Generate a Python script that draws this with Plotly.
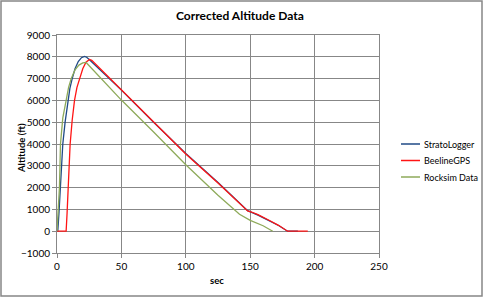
import plotly.graph_objects as go

# StratoLogger
strato_t = [0, 0.6, 1.5, 2.7, 4.5, 6.3, 8.4, 10, 11.8, 14, 16.5, 19, 21.3, 23, 25,
            50, 75, 100, 125, 148, 156, 165, 172, 179, 187]
strato_alt = [0, 0, 800, 2000, 4000, 5000, 6000, 6550, 7000, 7450, 7780, 7960, 8020, 7980, 7880,
              6470, 5000, 3560, 2230, 940, 740, 480, 260, 0, 0]

# BeelineGPS
gps_t = [0, 7.1, 7.8, 8.9, 10.2, 11.8, 13.6, 15.5, 17.5, 20, 22.5, 25.2, 27,
         50, 75, 100, 125, 148, 151, 156, 165, 172, 179, 187, 194.7]
gps_alt = [0, 0, 800, 2000, 4000, 5100, 6000, 6600, 7000, 7450, 7750, 7880, 7840,
           6470, 5000, 3540, 2210, 930, 880, 760, 490, 270, 0, 0, 0]

# Rocksim Data
rock_t = [0, 0.8, 1.9, 2.7, 4.5, 7.1, 9, 11, 14, 17, 20, 22.6,
          50, 75, 100, 125, 141.7, 150, 160, 167.5]
rock_alt = [0, 800, 2000, 4000, 5200, 6000, 6600, 7000, 7400, 7620, 7720, 7740,
            6015, 4550, 3050, 1650, 780, 500, 250, 0]

series_names = ["StratoLogger", "BeelineGPS", "Rocksim Data"]
series_colors = ["#1F4A86", "#FF1414", "#8EAA5A"]

FONT = "Lato"
W, H = 484, 298
L, R, T, B = 57, 105, 35, 45
PW, PH = W - L - R, H - T - B


def px(x):  # pixel x -> paper
    return (x - L) / PW


def py(y):  # pixel y -> paper
    return (H - B - y) / PH


fig = go.Figure()
for (t, a), name, col in zip([(strato_t, strato_alt), (gps_t, gps_alt), (rock_t, rock_alt)],
                             series_names, series_colors):
    fig.add_trace(go.Scatter(x=t, y=a, mode="lines", name=name, showlegend=False,
                             line=dict(color=col, width=1.3)))

axis_common = dict(showgrid=True, gridcolor="#878787", gridwidth=1,
                   showline=True, linecolor="#878787", linewidth=1, mirror=True,
                   zeroline=False, ticks="outside", ticklen=4, tickcolor="#878787",
                   automargin=False,
                   tickfont=dict(family=FONT, size=10, color="#000"))

shapes = [dict(type="rect", xref="paper", yref="paper",
               x0=px(1), x1=px(482), y0=py(296), y1=py(1),
               line=dict(color="#878787", width=1.5), fillcolor="rgba(0,0,0,0)", layer="below")]
annotations = [
    dict(text="<b>Corrected Altitude Data</b>", xref="paper", yref="paper",
         x=px(240), y=py(16), showarrow=False, xanchor="center", yanchor="middle",
         font=dict(family=FONT, size=12, color="#000")),
    dict(text="<b>Altitude (ft)</b>", xref="paper", yref="paper", textangle=-90,
         x=px(21), y=py(148), showarrow=False, xanchor="center", yanchor="middle",
         font=dict(family=FONT, size=9.5, color="#000")),
    dict(text="<b>sec</b>", xref="paper", yref="paper",
         x=px(217), y=py(280), showarrow=False, xanchor="center", yanchor="middle",
         font=dict(family=FONT, size=9.5, color="#000")),
]
for i, (name, col) in enumerate(zip(series_names, series_colors)):
    yy = 144 + i * 16.5
    shapes.append(dict(type="line", xref="paper", yref="paper",
                       x0=px(401), x1=px(420), y0=py(yy), y1=py(yy),
                       line=dict(color=col, width=1.5)))
    annotations.append(dict(text=name, xref="paper", yref="paper", x=px(422), y=py(yy),
                            showarrow=False, xanchor="left", yanchor="middle",
                            font=dict(family=FONT, size=9, color="#000")))

fig.update_layout(
    width=W, height=H,
    margin=dict(l=L, r=R, t=T, b=B),
    paper_bgcolor="white", plot_bgcolor="white",
    showlegend=False,
    xaxis=dict(range=[0, 250], dtick=50, tick0=0, **axis_common),
    yaxis=dict(range=[-1000, 9000], dtick=1000, tick0=0, **axis_common),
    shapes=shapes,
    annotations=annotations,
)

fig.write_html("out.html")
